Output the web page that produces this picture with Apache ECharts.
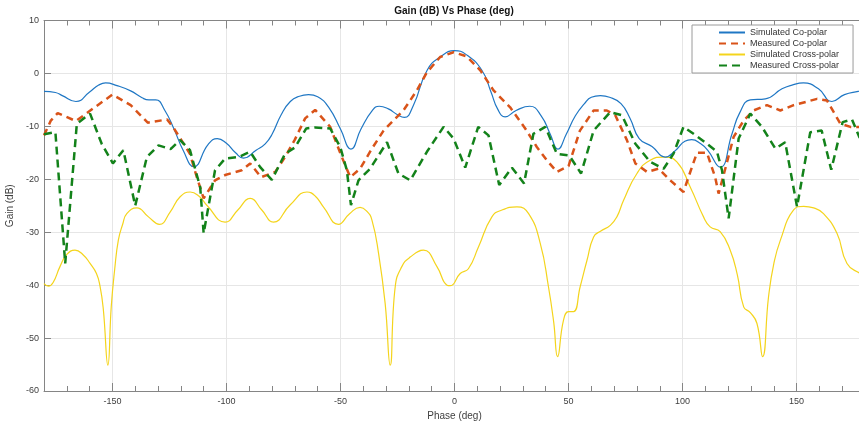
<!DOCTYPE html>
<html>
<head>
<meta charset="utf-8">
<script src="https://cdn.jsdelivr.net/npm/echarts@6/dist/echarts.min.js"></script>
<style>
html,body{margin:0;padding:0;background:#fff;}
#chart{width:859px;height:425px;}
</style>
</head>
<body>
<div id="chart"></div>
<script>
// ---- Data ----
const seriesNames = ['Simulated Co-polar', 'Measured Co-polar', 'Simulated Cross-polar', 'Measured Cross-polar'];
const chartTitle = 'Gain (dB) Vs Phase (deg)';
const xTitle = 'Phase (deg)';
const yTitle = 'Gain (dB)';

const simCoX = [-180,-175,-172,-166,-160,-156,-153,-148,-142,-137,-134,-131,-127,-123,-119,-114.3,-108,-104,-100,-96,-92.5,-87,-83,-80,-76,-72,-68,-64,-60,-55,-50,-45.4,-41,-36,-33,-29,-25,-22,-18,-12,-6,0,5,12,16,19,22.2,27,33,38,42,45.3,49,53,57,60,64,68,73,77,81,86.6,92.4,97,101,104,108,111,116.5,121.7,125,129.7,136.3,143.6,148,153,159.6,165.5,171,177,180];
const simCoY = [-3.4,-3.6,-4.2,-5.3,-3.5,-2.2,-1.8,-2.3,-3.3,-4.6,-5.0,-5.0,-7.0,-10.5,-14.5,-17.6,-13.4,-12.3,-13.2,-15.0,-16.0,-14.5,-13.3,-11.5,-7.8,-5.3,-4.3,-4.0,-4.4,-6.5,-10.5,-14.3,-10.5,-7.0,-6.2,-6.7,-7.8,-8.3,-6.0,0.6,3.2,4.3,3.6,0.6,-3.5,-6.8,-8.2,-7.0,-6.2,-8.0,-11.5,-14.3,-11.5,-8.0,-5.7,-4.5,-4.2,-4.5,-5.7,-8.5,-12.3,-13.8,-15.8,-14.5,-12.8,-12.5,-13.3,-14.5,-17.7,-11.4,-7.5,-5.0,-4.8,-2.9,-2.2,-1.8,-2.9,-5.3,-4.0,-3.4,-3.2];

const measCoX = [-180,-177,-174,-166,-160,-150,-142,-134.5,-126,-123,-116,-113,-110,-105,-100.6,-93.3,-89.6,-84.8,-78.6,-74.3,-70,-65.5,-61.1,-54.5,-49.4,-45.7,-41.4,-36.2,-31.1,-22.4,-16.5,-12.1,-6.3,-0.4,5.4,11.3,17.1,24.4,31,36.1,40.5,44.9,50,55,61,66.8,70.5,75.6,79.3,84.4,89.5,94.6,100.4,102.6,106.3,110.7,114.3,115.8,118,122.4,126.8,131.1,137,142.9,148.7,159,163.3,169.2,173.6,180];
const measCoY = [-11.7,-8.9,-7.5,-9.0,-7.1,-4.0,-6.0,-9.3,-8.7,-10.4,-15.2,-19.6,-23.6,-20.2,-19.2,-18.3,-17.0,-19.6,-18.6,-15.8,-12.5,-8.5,-6.9,-10.1,-15.8,-19.6,-18.0,-14.2,-10.8,-7.0,-3.2,0.2,3.1,4.0,3.2,0.6,-3.2,-6.4,-10.4,-13.9,-16.4,-18.6,-17.5,-10.8,-7.0,-7.0,-7.9,-12.6,-17.0,-18.6,-18.0,-20.2,-22.4,-19.6,-15.0,-15.0,-19.6,-22.7,-19.2,-12.0,-8.9,-7.0,-6.0,-7.0,-6.0,-4.8,-5.1,-9.5,-10.1,-10.1];

const simXpX = [-180,-178,-176,-173,-170,-166.4,-163,-159.8,-157,-155.4,-154,-152,-150.5,-149,-147.4,-145.5,-143.7,-139.3,-134.2,-129.4,-124.7,-120.3,-115.9,-112,-108.6,-100.6,-95,-89.6,-84.5,-79.4,-72,-64.7,-61,-57.5,-50.9,-46,-41.4,-38.5,-36.2,-33.3,-30.4,-28.2,-26,-23.1,-19.4,-13.6,-7.7,-3.3,-1.9,2.5,6.1,10.5,16.4,20.8,27.4,32.5,37.6,41.2,43.5,45.2,47.8,50,52.2,55.1,58.1,61,64,68.3,71.2,74.1,80,85.8,91.7,97.5,103.4,109.2,112.1,116.5,120.9,124,126.8,129.7,132.6,135.1,137.7,140,142.9,148.7,153.1,157.5,161.8,167.7,172.1,177.5,180];
const simXpY = [-39.7,-40.2,-39.5,-36.5,-34.2,-33.4,-34.2,-35.9,-37.8,-40.3,-44.5,-55.1,-44.0,-37.0,-31.5,-28.5,-26.5,-25.4,-27.1,-28.5,-26.2,-23.3,-22.4,-23.2,-24.9,-28.1,-25.8,-23.6,-25.8,-28.1,-24.8,-22.4,-23.2,-25.2,-28.5,-26.5,-25.3,-26.0,-27.7,-34.0,-43.5,-55.1,-40.3,-36.5,-34.7,-33.4,-36.5,-40.0,-40.1,-37.8,-36.9,-32.8,-27.1,-25.8,-25.2,-26.5,-32.1,-40.3,-47.0,-53.5,-46.6,-45.0,-45.0,-40.3,-35.3,-30.9,-29.8,-28.7,-27.1,-24.0,-18.9,-16.4,-15.8,-16.7,-21.5,-27.1,-29.0,-29.9,-33.4,-38.0,-44.1,-45.2,-47.2,-53.5,-42.2,-36.0,-31.5,-25.8,-25.1,-25.4,-26.5,-30.2,-35.9,-37.7,-38.0];

const measXpX = [-180,-175,-170.7,-165.6,-159.8,-154.7,-149.8,-145.2,-140,-134.9,-129.8,-124.5,-120.3,-116,-111.5,-110,-105,-100.6,-94.7,-89.6,-85.2,-80.1,-74.3,-70,-65,-61.1,-54.5,-50.1,-47.2,-45.4,-42.1,-37,-29.6,-24.6,-19.4,-12.1,-4.8,-0.4,4.7,10.4,14.9,19.6,25.2,30.5,34.6,39.8,44.9,50.3,55.5,61,68.3,73.4,79.3,85.8,91.7,96,100.4,104.8,110.7,115.1,117.3,120.2,124.6,129.7,134.8,140.7,145,150.2,156,161,165.2,170.2,174.3,177.5,180];
const measXpY = [-11.5,-11.1,-35.9,-9.5,-7.6,-13.3,-17.0,-14.5,-25.0,-15.8,-13.6,-14.3,-12.6,-14.5,-21.5,-30.2,-18.3,-16.1,-15.8,-14.8,-17.7,-20.1,-15.2,-14.0,-10.4,-10.2,-10.4,-13.9,-18.3,-24.9,-20.2,-18.0,-13.0,-18.9,-20.2,-14.8,-10.1,-12.3,-17.8,-10.1,-11.7,-21.1,-17.8,-20.8,-11.4,-10.1,-15.2,-15.5,-18.9,-10.8,-7.3,-7.9,-13.3,-16.7,-18.0,-15.2,-10.1,-11.4,-13.3,-14.8,-18.3,-27.4,-12.3,-7.6,-10.1,-14.2,-13.0,-25.2,-11.1,-10.8,-18.2,-9.2,-8.7,-12.0,-13.5];

const xTickLabels = [-150, -100, -50, 0, 50, 100, 150];
const xMin = -180, xMax = 180, yMin = -60, yMax = 10, yStep = 10;

// ---- Chart ----
const FONT = '"Liberation Sans", Arial, Helvetica, sans-serif';
const pairs = (xs, ys) => xs.map((x, i) => [x, ys[i]]);
const chart = echarts.init(document.getElementById('chart'), null, {renderer: 'canvas'});

const axisGrey = '#858585';
const labelGrey = '#404040';

const xCommon = {
  type: 'value', min: xMin, max: xMax, splitNumber: 7,
  axisLine: {show: true, onZero: false, lineStyle: {color: axisGrey, width: 1}},
  axisTick: {show: true, inside: true, length: 8, lineStyle: {color: axisGrey}},
  minorTick: {show: true, splitNumber: 5, length: 5, lineStyle: {color: axisGrey}},
};

chart.setOption({
  animation: false,
  backgroundColor: '#ffffff',
  textStyle: {fontFamily: FONT},
  title: {
    text: chartTitle, left: 454, top: 6, textAlign: 'center', padding: 0,
    textStyle: {fontFamily: FONT, fontSize: 10, fontWeight: 'bold', color: '#111'}
  },
  legend: {
    orient: 'vertical', left: 692, top: 25,
    padding: [3, 14, 3, 26], itemWidth: 26, itemHeight: 10, itemGap: 2,
    itemStyle: {opacity: 0},
    backgroundColor: '#ffffff', borderColor: '#9a9a9a', borderWidth: 1, borderRadius: 0,
    textStyle: {fontFamily: FONT, fontSize: 9, color: '#333'},
    data: seriesNames
  },
  grid: {left: 44, right: -6, top: 20.5, bottom: 34, containLabel: false, outerBoundsMode: 'none'},
  xAxis: [
    Object.assign({}, xCommon, {
      position: 'bottom',
      name: xTitle, nameLocation: 'middle', nameGap: 19,
      nameTextStyle: {fontFamily: FONT, fontSize: 10, color: labelGrey},
      axisLabel: {
        show: true, margin: 6, color: labelGrey, fontFamily: FONT, fontSize: 9,
        formatter: v => (xTickLabels.indexOf(v) >= 0 ? String(v) : '')
      },
      splitLine: {show: true, lineStyle: {color: '#e6e6e6', width: 1}}
    }),
    Object.assign({}, xCommon, {
      position: 'top',
      axisLabel: {show: false},
      splitLine: {show: false}
    })
  ],
  yAxis: {
    type: 'value', min: yMin, max: yMax, interval: yStep,
    name: yTitle, nameLocation: 'middle', nameGap: 22,
    nameTextStyle: {fontFamily: FONT, fontSize: 10, color: labelGrey},
    axisLine: {show: true, onZero: false, lineStyle: {color: axisGrey}},
    axisTick: {show: true, inside: true, length: 7, lineStyle: {color: axisGrey}},
    axisLabel: {color: labelGrey, fontFamily: FONT, fontSize: 9, margin: 5},
    splitLine: {show: true, lineStyle: {color: '#e6e6e6', width: 1}}
  },
  series: [
    {
      name: seriesNames[0], type: 'line', xAxisIndex: 0, data: pairs(simCoX, simCoY),
      symbol: 'none', smooth: 0.5,
      lineStyle: {color: '#1f77c4', width: 1.2}, itemStyle: {color: '#1f77c4'}, z: 3
    },
    {
      name: seriesNames[1], type: 'line', xAxisIndex: 0, data: pairs(measCoX, measCoY),
      symbol: 'none', smooth: false,
      lineStyle: {color: '#d95319', width: 2.5, type: [7, 5]}, itemStyle: {color: '#d95319'}, z: 4
    },
    {
      name: seriesNames[2], type: 'line', xAxisIndex: 0, data: pairs(simXpX, simXpY),
      symbol: 'none', smooth: 0.5,
      lineStyle: {color: '#f4d41c', width: 1.2}, itemStyle: {color: '#f4d41c'}, z: 2
    },
    {
      name: seriesNames[3], type: 'line', xAxisIndex: 0, data: pairs(measXpX, measXpY),
      symbol: 'none', smooth: false,
      lineStyle: {color: '#13821a', width: 2.5, type: [8, 5]}, itemStyle: {color: '#13821a'}, z: 5
    }
  ]
});
</script>
</body>
</html>
